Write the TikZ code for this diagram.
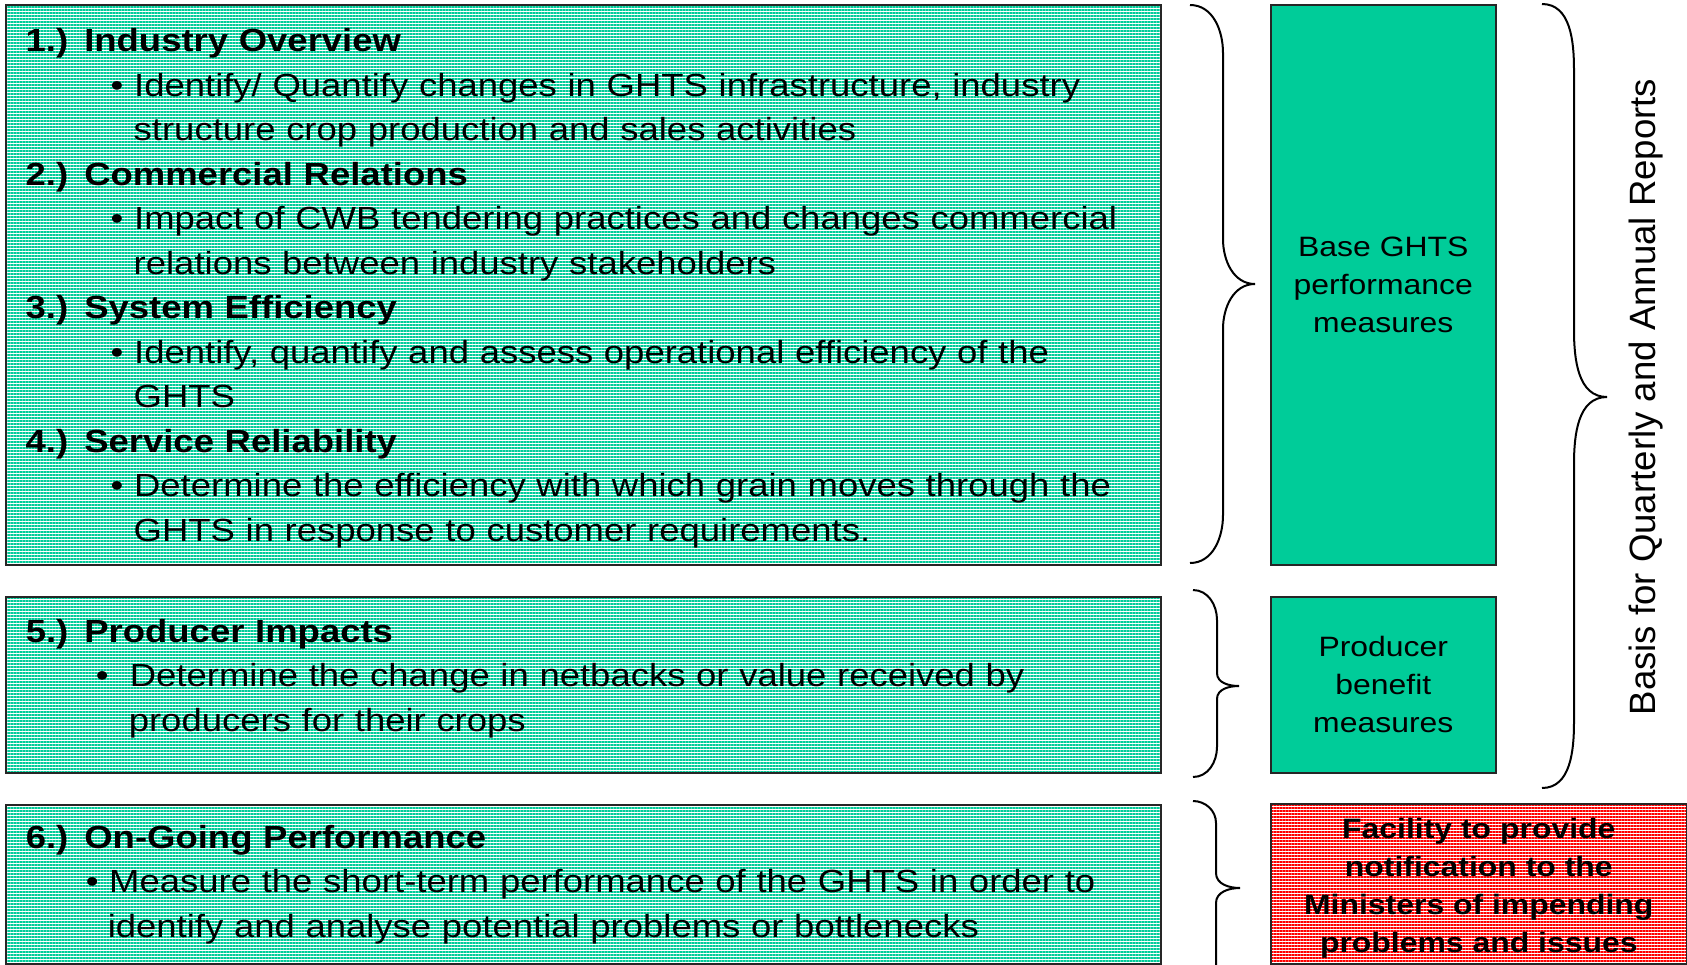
\documentclass[tikz,border=0pt]{standalone}
\usepackage{fontspec}
\setmainfont{Liberation Sans}[FakeStretch=1.14]
\newfontfamily\plainsans{Liberation Sans}
\usetikzlibrary{patterns.meta}

\definecolor{ghtsgreen}{RGB}{0,204,153}
\definecolor{alertred}{RGB}{255,0,0}

% curly bracket: x end, x stem, x tip, y top, y tip, y bottom, end radius, tip radius
\newcommand{\curly}[8]{%
  \draw[bracket] (#1,#4) to[out=0,in=90] (#2,#4+#7) -- (#2,#5-#8)
    to[out=-90,in=180] (#3,#5) to[out=180,in=90] (#2,#5+#8)
    -- (#2,#6-#7) to[out=-90,in=0] (#1,#6);}

\tikzset{
  topic/.style={draw=black!85, line width=0.8pt, preaction={fill=white},
    pattern={Lines[distance=1.5pt,line width=0.7pt]}, pattern color=ghtsgreen,
    anchor=north west, text width=557.5pt, inner xsep=10pt, inner ysep=0pt,
    align=left, font=\fontsize{16}{22.25}\selectfont},
  measure/.style={draw=black!85, line width=0.8pt, fill=ghtsgreen,
    anchor=north west, minimum width=112.5pt, inner sep=0pt, align=center,
    font=\fontsize{14}{19}\selectfont},
  alert/.style={draw=black!85, line width=0.8pt, preaction={fill=white},
    pattern={Lines[distance=1.5pt,line width=0.7pt]}, pattern color=alertred,
    anchor=north west, minimum width=208pt, inner sep=0pt, align=center,
    font=\fontsize{14}{19}\selectfont\bfseries},
  bracket/.style={line width=1pt, black},
}

\begin{document}
\begin{tikzpicture}[x=0.5pt,y=-0.5pt]
\useasboundingbox (0,0) rectangle (1687,964);

% topics
\node[topic, minimum height=280pt] (base topics) at (5,4) {%
\rule{0pt}{15pt}\textbf{1.) Industry Overview}\\
\hspace*{42.5pt}\textbullet\ Identify/ Quantify changes in GHTS infrastructure, industry\\
\hspace*{54pt}structure crop production and sales activities\\
\textbf{2.) Commercial Relations}\\
\hspace*{42.5pt}\textbullet\ Impact of CWB tendering practices and changes commercial\\
\hspace*{54pt}relations between industry stakeholders\\
\textbf{3.) System Efficiency}\\
\hspace*{42.5pt}\textbullet\ Identify, quantify and assess operational efficiency of the\\
\hspace*{54pt}GHTS\\
\textbf{4.) Service Reliability}\\
\hspace*{42.5pt}\textbullet\ Determine the efficiency with which grain moves through the\\
\hspace*{54pt}GHTS in response to customer requirements.};
\node[topic, minimum height=88pt] (producer topic) at (5,596) {%
\textbf{5.) Producer Impacts}\\
\hspace*{35pt}\textbullet\ \ Determine the change in netbacks or value received by\\
\hspace*{51.5pt}producers for their crops\rule[-9.8pt]{0pt}{0pt}};
\node[topic, minimum height=79.5pt] (ongoing topic) at (5,804) {%
\textbf{6.) On-Going Performance}\\
\hspace*{30pt}\textbullet\ Measure the short-term performance of the GHTS in order to\\
\hspace*{41pt}identify and analyse potential problems or bottlenecks};

% measures
\node[measure, minimum height=280pt] (base measures) at (1270,4)
  {Base GHTS\\performance\\measures};
\node[measure, minimum height=88pt] (producer measures) at (1270,596)
  {Producer\\benefit\\measures};
\node[alert, minimum height=80pt] (notification) at (1270,803)
  {\rule{0pt}{14.5pt}Facility to provide\\notification to the\\Ministers of impending\\problems and issues};

% brackets
\curly{1190}{1223}{1255}{5}{284}{563}{48}{45}
\curly{1193}{1217}{1239}{590}{686}{777}{30}{13}
\curly{1193}{1216}{1240}{801}{888}{1000}{22}{15}
\curly{1542}{1574}{1607}{4}{397}{788}{66}{67}

\node[rotate=90, font=\plainsans\fontsize{18.3}{22}\selectfont] (reports) at (1646,397)
  {Basis for Quarterly and Annual Reports};
\end{tikzpicture}
\end{document}
